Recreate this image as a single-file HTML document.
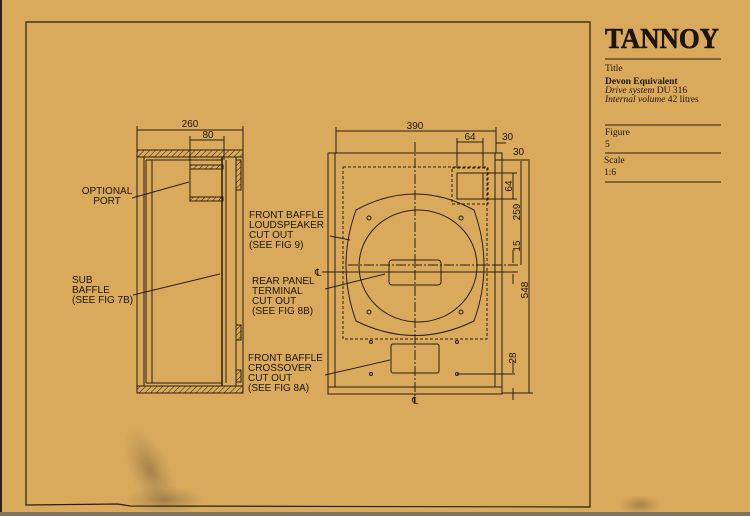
<!DOCTYPE html>
<html><head><meta charset="utf-8"><style>
html,body{margin:0;padding:0}
body{width:750px;height:516px;overflow:hidden;background:#d9aa5c;position:relative;font-family:"Liberation Sans",sans-serif}
svg{position:absolute;left:0;top:0}
</style></head><body>
<svg width="750" height="516" viewBox="0 0 750 516" xmlns="http://www.w3.org/2000/svg">
<defs>
<radialGradient id="st" cx="0.5" cy="0.5" r="0.5">
<stop offset="0" stop-color="#8f7040" stop-opacity="0.7"/>
<stop offset="1" stop-color="#a08050" stop-opacity="0"/>
</radialGradient>
<pattern id="h" width="4" height="4" patternUnits="userSpaceOnUse" patternTransform="rotate(45)">
<line x1="0" y1="0" x2="0" y2="4" stroke="#2a1e10" stroke-width="1"/>
</pattern>
</defs>
<rect x="0" y="0" width="2" height="516" fill="#2a2014"/>
<rect x="0" y="512" width="750" height="4" fill="#7d7560"/>
<ellipse cx="150" cy="470" rx="20" ry="45" fill="url(#st)" transform="rotate(-25 150 470)"/>
<ellipse cx="165" cy="500" rx="40" ry="14" fill="url(#st)"/>
<ellipse cx="640" cy="505" rx="22" ry="10" fill="url(#st)"/>
<g fill="none" stroke="#2a1e10" stroke-width="1">
<path d="M26 22 H590 V507 L130 506 L118 504 L26 505 Z" stroke-width="1.2"/>
<line x1="605" y1="59" x2="721" y2="59"/>
<line x1="605" y1="125" x2="721" y2="125"/>
<line x1="605" y1="153" x2="721" y2="153"/>
<line x1="605" y1="182" x2="721" y2="182"/>
<rect x="137" y="150" width="106" height="243"/>
<rect x="137" y="150" width="106" height="7" fill="url(#h)"/>
<rect x="137" y="386" width="106" height="7" fill="url(#h)"/>
<line x1="144" y1="157" x2="144" y2="386"/>
<line x1="146" y1="160" x2="146" y2="383"/>
<line x1="152" y1="160" x2="152" y2="383"/>
<line x1="146" y1="160" x2="222" y2="160"/>
<line x1="146" y1="383" x2="222" y2="383"/>
<line x1="222" y1="157" x2="222" y2="386" stroke-width="1.5"/>
<line x1="226" y1="160" x2="226" y2="383"/>
<line x1="236" y1="157" x2="236" y2="386"/>
<rect x="236" y="160" width="5" height="30" fill="url(#h)"/>
<rect x="236" y="325" width="5" height="15" fill="url(#h)"/>
<rect x="236" y="370" width="5" height="12" fill="url(#h)"/>
<rect x="190" y="165" width="33" height="4" fill="url(#h)"/>
<rect x="190" y="197" width="33" height="4" fill="url(#h)"/>
<line x1="190" y1="169" x2="190" y2="197"/>
<line x1="137" y1="130" x2="243" y2="130"/>
<line x1="137" y1="126" x2="137" y2="150"/><line x1="243" y1="126" x2="243" y2="150"/>
<line x1="190" y1="140" x2="224" y2="140"/>
<line x1="190" y1="136" x2="190" y2="165"/><line x1="224" y1="136" x2="224" y2="160"/>
<line x1="132" y1="198" x2="189" y2="182"/>
<line x1="133" y1="295" x2="220" y2="274"/>
<rect x="328" y="153" width="174" height="241"/>
<line x1="335" y1="153" x2="335" y2="387"/>
<line x1="495" y1="153" x2="495" y2="387"/>
<line x1="328" y1="387" x2="502" y2="387"/>
<line x1="495" y1="160" x2="530" y2="160"/>
<rect x="343" y="167" width="144" height="172" stroke-dasharray="3,2"/>
<rect x="452" y="168" width="36" height="36" stroke-dasharray="3,2"/>
<rect x="457" y="173" width="26" height="26"/>
<path d="M356 210 Q415 178 474 210 Q494 265 474 321 Q415 350 356 321 Q336 265 356 210 Z"/>
<ellipse cx="418" cy="266" rx="59" ry="56"/>
<circle cx="369" cy="218" r="2"/><circle cx="461" cy="218" r="2"/>
<circle cx="369" cy="312" r="2"/><circle cx="461" cy="312" r="2"/>
<rect x="389" y="260" width="52" height="25" rx="3"/>
<rect x="391" y="344" width="48" height="29" rx="2"/>
<circle cx="371" cy="342" r="1.5"/><circle cx="457" cy="342" r="1.5"/>
<circle cx="371" cy="374" r="1.5"/><circle cx="457" cy="374" r="1.5"/>
<line x1="415" y1="142" x2="415" y2="402" stroke-dasharray="10,2,2,2"/>
<line x1="322" y1="272" x2="518" y2="272"/>
<line x1="348" y1="265" x2="520" y2="265" stroke-dasharray="10,2,2,2"/>
<line x1="457" y1="374" x2="515" y2="374"/>
<line x1="336" y1="131" x2="496" y2="131"/>
<line x1="336" y1="127" x2="336" y2="153"/><line x1="496" y1="127" x2="496" y2="153"/>
<line x1="457" y1="142" x2="483" y2="142"/>
<line x1="457" y1="138" x2="457" y2="168"/><line x1="483" y1="138" x2="483" y2="168"/>
<line x1="496" y1="143" x2="506" y2="143"/>
<line x1="483" y1="173" x2="517" y2="173"/><line x1="483" y1="199" x2="517" y2="199"/>
<line x1="513" y1="173" x2="513" y2="199"/>
<line x1="521" y1="161" x2="521" y2="265"/>
<line x1="529" y1="161" x2="529" y2="393"/>
<line x1="502" y1="393" x2="533" y2="393"/>
<line x1="513" y1="250" x2="513" y2="263"/><line x1="513" y1="274" x2="513" y2="284"/>
<line x1="513" y1="360" x2="513" y2="373"/><line x1="513" y1="388" x2="513" y2="400"/>
<line x1="330" y1="236" x2="350" y2="240"/>
<line x1="325" y1="289" x2="385" y2="274"/>
<line x1="325" y1="375" x2="390" y2="360"/>
</g>
<g fill="#1e150a" font-size="10">
<text x="190" y="127" text-anchor="middle">260</text>
<text x="208" y="138" text-anchor="middle">80</text>
<text x="107" y="194" text-anchor="middle">OPTIONAL</text>
<text x="107" y="204" text-anchor="middle">PORT</text>
<text x="72" y="283">SUB</text>
<text x="72" y="293">BAFFLE</text>
<text x="72" y="303">(SEE FIG 7B)</text>
<text x="249" y="218">FRONT BAFFLE</text>
<text x="249" y="228">LOUDSPEAKER</text>
<text x="249" y="238">CUT OUT</text>
<text x="249" y="248">(SEE FIG 9)</text>
<text x="252" y="284">REAR PANEL</text>
<text x="252" y="294">TERMINAL</text>
<text x="252" y="304">CUT OUT</text>
<text x="252" y="314">(SEE FIG 8B)</text>
<text x="248" y="361">FRONT BAFFLE</text>
<text x="248" y="371">CROSSOVER</text>
<text x="248" y="381">CUT OUT</text>
<text x="248" y="391">(SEE FIG 8A)</text>
<text x="415" y="129" text-anchor="middle">390</text>
<text x="470" y="140" text-anchor="middle">64</text>
<text x="502" y="140">30</text>
<text x="513" y="155">30</text>
<text x="315" y="276">℄</text>
<text x="412" y="404">℄</text>
<text transform="translate(512,186) rotate(-90)" text-anchor="middle">64</text>
<text transform="translate(520,212) rotate(-90)" text-anchor="middle">259</text>
<text transform="translate(520,246) rotate(-90)" text-anchor="middle">15</text>
<text transform="translate(528,290) rotate(-90)" text-anchor="middle">548</text>
<text transform="translate(516,358) rotate(-90)" text-anchor="middle">28</text>
</g>
<g fill="#1e150a" font-family="Liberation Serif,serif">
<text x="605" y="48" font-size="28" font-weight="bold" stroke="#1e150a" stroke-width="0.6" textLength="114" lengthAdjust="spacingAndGlyphs">TANNOY</text>
<text x="605" y="71" font-size="9.5">Title</text>
<text x="605" y="84" font-size="9.5" font-weight="bold">Devon Equivalent</text>
<text x="605" y="93" font-size="9.5"><tspan font-style="italic">Drive system</tspan> DU 316</text>
<text x="605" y="102" font-size="9.5"><tspan font-style="italic">Internal volume</tspan> 42 litres</text>
<text x="605" y="135" font-size="9.5">Figure</text>
<text x="605" y="147" font-size="9.5">5</text>
<text x="604" y="163" font-size="9.5">Scale</text>
<text x="604" y="175" font-size="9.5">1:6</text>
</g>
</svg>
</body></html>
